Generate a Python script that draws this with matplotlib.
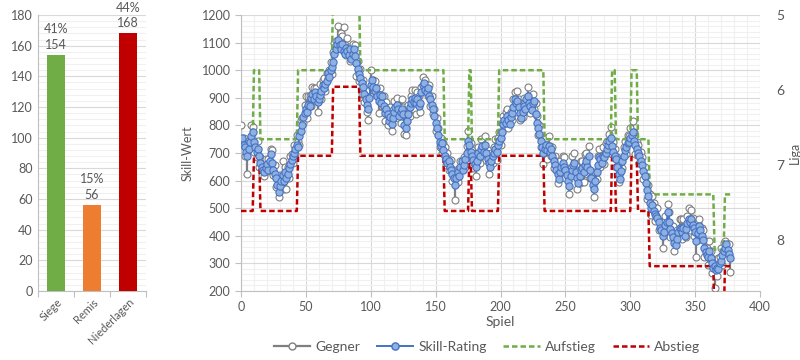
import numpy as np
import matplotlib
matplotlib.use("Agg")
import matplotlib.pyplot as plt
from matplotlib.lines import Line2D
from matplotlib.ticker import MultipleLocator

plt.rcParams['font.family'] = ['Lato', 'DejaVu Sans']

# ---------------- data ----------------
bar_categories = ["Siege", "Remis", "Niederlagen"]
bar_values = [154, 56, 168]
bar_percent = ["41%", "15%", "44%"]
bar_colors = ["#70AD47", "#ED7D31", "#C00000"]

skill_rating = [
    740, 755, 730, 720, 705, 690, 715, 740, 760, 775,
    740, 720, 705, 715, 690, 665, 650, 640, 630, 645,
    660, 640, 670, 695, 665, 640, 625, 610, 585, 560,
    580, 600, 620, 600, 630, 610, 625, 645, 660, 675,
    690, 700, 715, 730, 720, 760, 780, 800, 830, 845,
    860, 850, 875, 870, 900, 915, 895, 920, 905, 885,
    895, 910, 925, 945, 935, 950, 960, 990, 975, 1000,
    1010, 1030, 1060, 1075, 1095, 1110, 1090, 1075, 1095, 1070,
    1060, 1080, 1070, 1055, 1075, 1040, 1060, 1075, 1050, 1025,
    1005, 985, 970, 955, 940, 915, 895, 875, 860, 900,
    945, 965, 940, 925, 935, 905, 890, 910, 880, 905,
    870, 845, 860, 840, 815, 830, 805, 825, 850, 865,
    875, 860, 835, 850, 860, 840, 800, 790, 815, 840,
    865, 880, 895, 885, 900, 880, 895, 870, 880, 920,
    945, 955, 930, 920, 935, 905, 895, 875, 860, 835,
    810, 790, 765, 740, 725, 735, 710, 690, 680, 665,
    670, 650, 640, 625, 610, 585, 610, 630, 615, 650,
    670, 640, 655, 680, 700, 745, 730, 705, 690, 675,
    660, 650, 670, 700, 690, 715, 725, 705, 730, 700,
    680, 665, 650, 670, 690, 700, 715, 705, 730, 745,
    755, 775, 805, 820, 810, 835, 820, 805, 830, 845,
    865, 895, 880, 890, 865, 845, 825, 850, 870, 860,
    895, 905, 880, 870, 855, 880, 890, 840, 810, 790,
    770, 745, 720, 700, 715, 730, 710, 725, 705, 715,
    690, 670, 655, 640, 625, 605, 630, 650, 665, 650,
    640, 620, 600, 580, 615, 640, 655, 665, 630, 610,
    590, 615, 640, 645, 630, 655, 670, 650, 690, 640,
    610, 585, 570, 600, 630, 655, 685, 680, 665, 690,
    685, 700, 715, 730, 745, 755, 725, 705, 690, 680,
    650, 625, 605, 635, 670, 690, 710, 720, 735, 740,
    755, 765, 775, 745, 730, 715, 700, 690, 670, 655,
    635, 615, 590, 565, 545, 520, 500, 510, 490, 480,
    470, 465, 450, 430, 420, 400, 415, 440, 450, 485,
    450, 425, 410, 395, 375, 365, 390, 415, 430, 425,
    415, 430, 400, 425, 445, 460, 450, 460, 440, 430,
    415, 380, 410, 435, 420, 400, 385, 355, 340, 330,
    325, 345, 320, 300, 285, 290, 275, 285, 280, 300,
    310, 330, 345, 355, 370, 350, 335, 320,
]

gegner_offset = [
    60, -20, 25, -30, 15, -65, 30, -25, 40, 20,
    -35, 25, -20, 30, -40, 20, -30, 25, -15, 35,
    -25, 40, -30, 20, 45, -20, 30, -35, 25, -20,
    40, -25, 50, -30, 20, -40, 25, -35, 30, 20,
    -25, 30, -20, 35, 25, -30, 40, 25, -20, 30,
    45, -25, 30, 35, -30, 25, 40, -20, 30, -35,
    25, 40, -30, 20, 35, -25, 30, -20, 25, 30,
    -25, 35, 40, 30, -20, 50, 25, 60, 30, 85,
    30, -25, 45, 30, -40, 25, 35, -30, 40, -45,
    30, -25, 35, -40, 25, -30, 35, -25, -40, 30,
    55, -30, 25, 35, -20, 30, -45, 25, 30, -35,
    35, -30, 25, -40, 20, 35, -25, 30, 40, -30,
    25, -35, 30, -40, 35, 25, -30, -25, 30, 35,
    -30, 25, 35, -25, 30, -40, 25, 35, -30, 20,
    30, -25, 35, 25, -30, 40, -25, 30, -20, 25,
    -30, 35, 25, -20, 30, -35, 25, 30, -25, 35,
    -30, 25, 35, -25, 30, -55, 25, -35, 30, 20,
    -25, 35, 30, -30, 25, 35, -25, 30, 20, -30,
    25, -35, 30, 20, -25, 35, -30, 25, 30, -25,
    30, -40, 25, 30, -25, 20, 35, -30, 25, 30,
    -25, 35, 30, -25, 40, 25, -30, 35, 20, -25,
    30, 25, -30, 35, 30, -25, 40, -20, 30, 25,
    -30, 35, 25, -25, 30, 35, -30, 40, 25, -25,
    30, -25, 35, -40, 30, 25, -30, 35, 20, -25,
    30, -25, 35, 30, -35, 25, 40, -30, 25, 35,
    -30, 25, 35, -30, 30, 50, -25, 35, 30, -40,
    35, -25, 30, 25, -35, 40, 30, -25, 35, -30,
    25, 35, -30, 30, -25, 35, 30, -30, 25, 30,
    -25, 35, 30, -30, 25, 40, -30, 35, 25, -30,
    35, -30, 25, 40, -25, 30, 35, -25, 30, 20,
    35, -25, 40, 30, -35, 25, 30, -25, 35, 30,
    -30, 35, 25, -30, 40, 30, -25, 35, 30, -25,
    30, 35, -30, 25, 30, -45, 35, 30, -25, 30,
    35, -30, 25, 40, -30, 35, 30, -25, 30, 35,
    -25, 30, 35, -30, 25, 40, -30, 35, 25, -30,
    30, -55, 35, 25, -30, 30, 35, -30, 40, 25,
    -30, 35, 25, -35, 30, -80, 30, -30, 40, 25,
    45, -35, 30, 25, -30, 20, 35, -50,
]

# league segments: first game of each segment and league number
segment_start = [0, 10, 15, 44, 71, 92, 157, 176, 178, 199, 234, 286, 289, 301, 306, 315, 365, 373]
segment_league = [7, 6, 7, 6, 5, 6, 7, 6, 7, 6, 7, 6, 7, 6, 7, 8, 9, 8]
league_up = {5: 1300, 6: 1000, 7: 750, 8: 550, 9: 350}
league_down = {5: 940, 6: 690, 7: 490, 8: 290, 9: 90}

liga_ticks = [5, 6, 7, 8]

# ---------------- derived ----------------
skill = np.array(skill_rating, dtype=float)
n = len(skill)
games = np.arange(n)
gegner = skill + np.array(gegner_offset, dtype=float)

league = np.zeros(n, dtype=int)
for s, lg in zip(segment_start, segment_league):
    league[s:] = lg
aufstieg = np.array([league_up[l] for l in league], dtype=float)
abstieg = np.array([league_down[l] for l in league], dtype=float)

# ---------------- style ----------------
TXT = "#595959"
MAJ = "#d9d9d9"
MIN = "#f0f0f0"
AX = "#bfbfbf"
FS = 9

fig = plt.figure(figsize=(8, 3.6), dpi=100)

# ---------------- bar chart ----------------
axb = fig.add_axes([38 / 800, 69 / 360, 108 / 800, 276 / 360])
xpos = np.arange(len(bar_values)) + 0.5
axb.bar(xpos, bar_values, width=0.5, color=bar_colors, zorder=3)
axb.set_xlim(0, 3)
axb.set_ylim(0, 180)
axb.yaxis.set_major_locator(MultipleLocator(20))
axb.yaxis.set_minor_locator(MultipleLocator(4))
axb.grid(which='major', axis='y', color=MAJ, lw=0.8, zorder=0)
axb.grid(which='minor', axis='y', color=MIN, lw=0.8, zorder=0)
axb.set_xticks([0, 1, 2, 3])
axb.set_xticklabels([])
axb.set_xticks(xpos, minor=True)
axb.set_xticklabels(bar_categories, minor=True, rotation=45, ha='right',
                    rotation_mode='anchor', fontsize=8, color=TXT)
axb.tick_params(axis='x', which='minor', length=0, pad=4)
axb.tick_params(axis='x', which='major', length=4, color=AX)
axb.tick_params(axis='y', which='both', length=0, labelsize=FS, labelcolor=TXT, pad=4)
for sp in ['top', 'right']:
    axb.spines[sp].set_visible(False)
for sp in ['left', 'bottom']:
    axb.spines[sp].set_color(AX)
for x, v, p in zip(xpos, bar_values, bar_percent):
    axb.annotate(f"{p}\n{v}", (x, v), xytext=(0, 3), textcoords='offset points',
                 ha='center', va='bottom', fontsize=FS, color=TXT, linespacing=1.35,
                 annotation_clip=False)

# ---------------- main chart ----------------
ax = fig.add_axes([241 / 800, 69 / 360, 519 / 800, 276 / 360])
ax.set_xlim(0, 400)
ax.set_ylim(200, 1200)
ax.xaxis.set_major_locator(MultipleLocator(50))
ax.xaxis.set_minor_locator(MultipleLocator(10))
ax.yaxis.set_major_locator(MultipleLocator(100))
ax.yaxis.set_minor_locator(MultipleLocator(20))
ax.grid(which='major', color=MAJ, lw=0.8, zorder=0)
ax.grid(which='minor', color=MIN, lw=0.8, zorder=0)
ax.set_axisbelow(True)
for sp in ['top', 'right']:
    ax.spines[sp].set_visible(False)
for sp in ['left', 'bottom']:
    ax.spines[sp].set_color(AX)
ax.tick_params(axis='both', which='major', length=4, color=AX,
               labelsize=FS, labelcolor=TXT)
ax.tick_params(axis='both', which='minor', length=0)

ax.vlines(games, skill, gegner, color="#7f7f7f", lw=1.6, zorder=2)
ax.plot(games, gegner, 'o', ms=5, mfc='white', mec="#7f7f7f", mew=0.8, zorder=3)
ax.plot(games, aufstieg, color="#70AD47", lw=1.8, dashes=(2.2, 1.2), zorder=4)
ax.plot(games, abstieg, color="#C00000", lw=1.8, dashes=(2.2, 1.2), zorder=4)
ax.plot(games, skill, '-', color="#4472C4", lw=1.4, zorder=5)
ax.plot(games, skill, 'o', ms=5.2, mfc="#8FB0E0", mec="#4472C4", mew=0.8, zorder=6)

ax.set_xlabel("Spiel", fontsize=FS + 1, color=TXT, labelpad=2)
ax.set_ylabel("Skill-Wert", fontsize=FS, color=TXT, labelpad=6)

# right axis (Liga)
ax2 = ax.twinx()
top_val, px_per_liga = 1200.0, 272.0
ax2.set_ylim(5 + (top_val - 200) / px_per_liga, 5)
ax2.set_yticks(liga_ticks)
ax2.set_yticklabels([str(t) for t in liga_ticks])
ax2.tick_params(axis='y', length=0, pad=12, labelsize=FS + 1, labelcolor=TXT)
for sp in ax2.spines.values():
    sp.set_visible(False)
ax2.set_ylabel("Liga", fontsize=FS, color=TXT, labelpad=3)

# legend
handles = [
    Line2D([], [], color="#7f7f7f", lw=1.6, marker='o', ms=5, mfc='white', mec="#7f7f7f"),
    Line2D([], [], color="#4472C4", lw=1.4, marker='o', ms=5.2, mfc="#8FB0E0", mec="#4472C4"),
    Line2D([], [], color="#70AD47", lw=1.8, dashes=(2.2, 1.2)),
    Line2D([], [], color="#C00000", lw=1.8, dashes=(2.2, 1.2)),
]
fig.legend(handles, ["Gegner", "Skill-Rating", "Aufstieg", "Abstieg"],
           loc='center', bbox_to_anchor=(487 / 800, 1 - 347 / 360), ncol=4,
           frameon=False, fontsize=FS + 1, labelcolor=TXT, handlelength=2.6,
           columnspacing=1.2, handletextpad=0.4, borderaxespad=0)

fig.savefig("out.png", dpi=100)
